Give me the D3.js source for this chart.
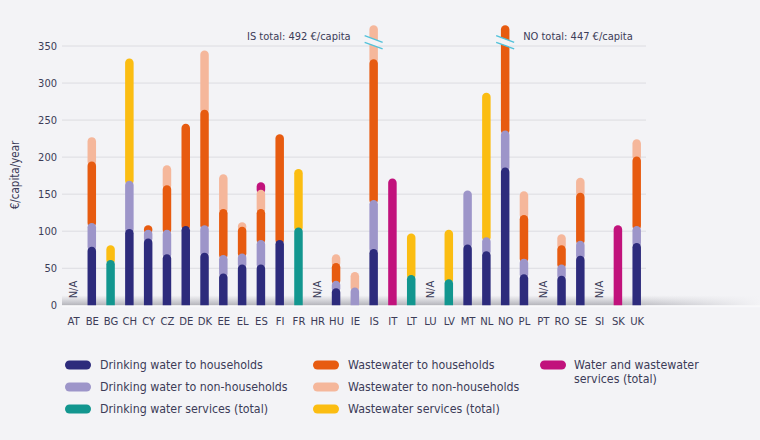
<!DOCTYPE html>
<html>
<head>
<meta charset="utf-8">
<script src="https://cdn.jsdelivr.net/npm/d3@7"></script>
<style>
  html, body { margin: 0; padding: 0; background: #f3f3f6; }
  svg { display: block; }
  text { font-family: "DejaVu Sans Condensed", "DejaVu Sans", sans-serif; fill: #3c3c58; }
</style>
</head>
<body>
<svg id="chart" width="760" height="440"></svg>
<script>
// ---------------- DATA ----------------
const countries = ["AT","BE","BG","CH","CY","CZ","DE","DK","EE","EL","ES","FI","FR","HR","HU","IE","IS","IT","LT","LU","LV","MT","NL","NO","PL","PT","RO","SE","SI","SK","UK"];
const dwHouseholds    = [0,79,0,103,90,69,107,71,43,55,55,88,0,0,23,0,76,0,0,0,0,82,73,186,42,0,40,67,0,0,84];
const dwNonHouseholds = [0,32,0,65,12,33,0,37,25,15,33,0,0,0,10,24,66,0,0,0,0,73,19,50,21,0,15,20,0,0,23];
const dwTotal         = [0,0,61,0,0,0,0,0,0,0,0,0,105,0,0,0,0,0,41,0,35,0,0,0,0,0,0,0,0,0,0];
const wwHouseholds    = [0,83,0,0,6,60,138,156,62,36,42,143,0,0,24,0,190,0,0,0,0,0,0,211,59,0,26,65,0,0,94];
const wwNonHouseholds = [0,33,0,0,0,27,0,80,47,6,26,0,0,0,12,21,160,0,0,0,0,0,0,0,32,0,15,20,0,0,23];
const wwTotal         = [0,0,20,165,0,0,0,0,0,0,0,0,79,0,0,0,0,0,56,0,67,0,195,0,0,0,0,0,0,0,0];
const wawTotal        = [0,0,0,0,0,0,0,0,0,0,10,0,0,0,0,0,0,171,0,0,0,0,0,0,0,0,0,0,0,108,0];
const naCountries = ["AT","HR","LU","PT","SI"];
const yTicks = [0,50,100,150,200,250,300,350];
const seriesNames = ["Drinking water to households","Drinking water to non-households","Drinking water services (total)",
  "Wastewater to households","Wastewater to non-households","Wastewater services (total)","Water and wastewater services (total)"];
const seriesColors = ["#2d2b7c","#9d95c9","#12968f","#e75b10","#f5b79b","#fbbd12","#c1127c"];
const brokenBars = [{country:"IS", total:492, side:"left"}, {country:"NO", total:447, side:"right"}];
const displayMax = 378;   // value where broken bars are cut
const breakAt = 355;      // value where the break marks sit

// ---------------- SETUP ----------------
const svg = d3.select("#chart");
const bg = "#f3f3f6";
svg.append("rect").attr("width",760).attr("height",440).attr("fill",bg);

const x = d3.scalePoint().domain(countries).range([73, 636.7]);
const y = d3.scaleLinear().domain([0,350]).range([305.3, 46]);
const gridLeft = 62, gridRight = 646;

// grid
svg.append("g").selectAll("line").data(yTicks).join("line")
  .attr("x1",gridLeft).attr("x2",gridRight)
  .attr("y1",d=>y(d)).attr("y2",d=>y(d))
  .attr("stroke","#dcdce1").attr("stroke-width",1);

// y axis labels
const yAxis = d3.axisLeft(y).tickValues(yTicks).tickSize(0).tickPadding(0);
const gy = svg.append("g").attr("transform","translate(57,0)").call(yAxis);
gy.select(".domain").remove();
gy.selectAll("text").attr("font-size","11px").style("font-family",null).attr("fill","#3c3c58");

// x axis labels
const xAxis = d3.axisBottom(x).tickSize(0).tickPadding(0);
const gx = svg.append("g").attr("transform","translate(0,317)").call(xAxis);
gx.select(".domain").remove();
gx.selectAll("text").attr("font-size","11.2px").style("font-family",null).attr("fill","#3c3c58");

// y title
svg.append("text").attr("transform","translate(19,175) rotate(-90)")
  .attr("text-anchor","middle").attr("font-size","11.5px").text("€/capita/year");

// baseline shadow
const defs = svg.append("defs");
const gv = defs.append("linearGradient").attr("id","shadowV").attr("x1",0).attr("x2",0).attr("y1",0).attr("y2",1);
gv.append("stop").attr("offset","0%").attr("stop-color","#b8b8be").attr("stop-opacity",0);
gv.append("stop").attr("offset","100%").attr("stop-color","#b0b0b7").attr("stop-opacity",0.95);
svg.append("rect").attr("x",gridLeft).attr("y",y(0)-10).attr("width",760-gridLeft).attr("height",10).attr("fill","url(#shadowV)");
const gh = defs.append("linearGradient").attr("id","fadeH").attr("x1",0).attr("x2",1).attr("y1",0).attr("y2",0);
gh.append("stop").attr("offset","0%").attr("stop-color",bg).attr("stop-opacity",0);
gh.append("stop").attr("offset","100%").attr("stop-color",bg).attr("stop-opacity",1);
svg.append("rect").attr("x",620).attr("y",y(0)-11).attr("width",140).attr("height",13).attr("fill","url(#fadeH)");
svg.append("rect").attr("x",gridLeft).attr("y",y(0)).attr("width",760-gridLeft).attr("height",2).attr("fill","#f8f8fa");

// clip so bars end flat at baseline
defs.append("clipPath").attr("id","barClip").append("rect")
  .attr("x",0).attr("y",0).attr("width",760).attr("height",y(0));

// stack
const table = countries.map((c,i)=>({country:c, s0:dwHouseholds[i], s1:dwNonHouseholds[i], s2:dwTotal[i],
  s3:wwHouseholds[i], s4:wwNonHouseholds[i], s5:wwTotal[i], s6:wawTotal[i]}));
const keys = ["s0","s1","s2","s3","s4","s5","s6"];
const stacked = d3.stack().keys(keys)(table);

const barW = 8.5, r = barW/2;
const barsG = svg.append("g").attr("clip-path","url(#barClip)");
// draw top series first so lower segments overlay the upper ones' bottoms
for (let k = keys.length-1; k >= 0; k--) {
  const segs = stacked[k].filter(d => d[1] - d[0] > 0).map(d => {
    const lo = d[0], hi = Math.min(d[1], displayMax);
    return {country:d.data.country, lo, hi};
  }).filter(d => d.hi > d.lo);
  barsG.append("g").selectAll("line").data(segs).join("line")
    .attr("x1",d=>x(d.country)).attr("x2",d=>x(d.country))
    .attr("y1",d=>y(d.lo)+ (d.lo===0 ? r : 0))
    .attr("y2",d=>Math.min(y(d.hi)+r, y(d.lo)))
    .attr("stroke",seriesColors[k]).attr("stroke-width",barW).attr("stroke-linecap","round");
}

// N/A labels
svg.append("g").selectAll("text").data(naCountries).join("text")
  .attr("transform",d=>`translate(${x(d)+4},${y(0)-7}) rotate(-90)`)
  .attr("font-size","11px").text("N/A");

// break marks and annotations
brokenBars.forEach(b => {
  const cx = x(b.country), c = y(breakAt);
  const dy = 3.3, hw = 9;
  svg.append("path")
    .attr("d",`M${cx-r-0.5},${c-dy-dy*(r+0.5)/hw} L${cx+r+0.5},${c-dy+dy*(r+0.5)/hw} L${cx+r+0.5},${c+dy+dy*(r+0.5)/hw} L${cx-r-0.5},${c+dy-dy*(r+0.5)/hw} Z`)
    .attr("fill",bg);
  [-dy, dy].forEach(o => {
    svg.append("line").attr("x1",cx-hw).attr("x2",cx+hw)
      .attr("y1",c+o-dy).attr("y2",c+o+dy)
      .attr("stroke","#52c2da").attr("stroke-width",1.4);
  });
  const t = svg.append("text").attr("y",40).attr("font-size","11px")
    .text(`${b.country} total: ${b.total} €/capita`);
  if (b.side === "left") t.attr("x",cx-23).attr("text-anchor","end");
  else t.attr("x",cx+18).attr("text-anchor","start");
});

// legend
const legendPos = [
  {col:0,row:0},{col:0,row:1},{col:0,row:2},
  {col:1,row:0},{col:1,row:1},{col:1,row:2},
  {col:2,row:0}
];
const colX = [65, 313, 540], rowY = [365, 387, 409];
const lg = svg.append("g");
seriesNames.forEach((name,i) => {
  const p = legendPos[i];
  const sx = colX[p.col], sy = rowY[p.row];
  lg.append("rect").attr("x",sx).attr("y",sy-4.5).attr("width",26).attr("height",9).attr("rx",4.5)
    .attr("fill",seriesColors[i]);
  const t = lg.append("text").attr("x",sx+35).attr("y",sy+4.3).attr("font-size","12.3px");
  if (i === 6) {
    t.append("tspan").attr("x",sx+34).text("Water and wastewater");
    t.append("tspan").attr("x",sx+34).attr("dy",13.5).text("services (total)");
  } else t.text(name);
});
</script>
</body>
</html>
